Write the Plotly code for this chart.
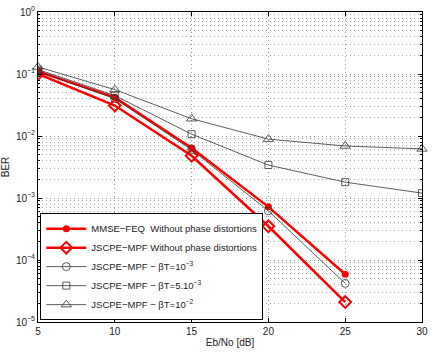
import plotly.graph_objects as go

ebno = [5, 10, 15, 20, 25, 30]
ber_mmse = [0.11, 0.042, 0.0064, 7.2e-4, 5.9e-5]
ber_jscpe = [0.10, 0.031, 0.0048, 3.5e-4, 2.1e-5]
ber_b1 = [0.11, 0.040, 0.0060, 6.2e-4, 4.2e-5]
ber_b5 = [0.118, 0.045, 0.0107, 0.0034, 0.0018, 0.0012]
ber_b10 = [0.13, 0.056, 0.019, 0.0089, 0.0069, 0.0062]

names = [
    "MMSE\u2212FEQ  Without phase distortions",
    "JSCPE\u2212MPF Without phase distortions",
    "JSCPE\u2212MPF \u2212 \u03b2T=10<sup>\u22123</sup>",
    "JSCPE\u2212MPF \u2212 \u03b2T=5.10<sup>\u22123</sup>",
    "JSCPE\u2212MPF \u2212 \u03b2T=10<sup>\u22122</sup>",
]

y_tickvals = [1, 0.1, 0.01, 1e-3, 1e-4, 1e-5]
y_ticktext = ["10<sup>0</sup>", "10<sup>\u22121</sup>", "10<sup>\u22122</sup>",
              "10<sup>\u22123</sup>", "10<sup>\u22124</sup>", "10<sup>\u22125</sup>"]

fig = go.Figure()
fig.add_trace(go.Scatter(x=ebno[:5], y=ber_mmse, name=names[0], mode="lines+markers",
                         line=dict(color="#ff0000", width=2.5),
                         marker=dict(symbol="circle", size=7, color="#ff0000")))
fig.add_trace(go.Scatter(x=ebno[:5], y=ber_jscpe, name=names[1], mode="lines+markers",
                         line=dict(color="#ff0000", width=2.5),
                         marker=dict(symbol="diamond-open", size=9, color="#ff0000",
                                     line=dict(width=2))))
fig.add_trace(go.Scatter(x=ebno[:5], y=ber_b1, name=names[2], mode="lines+markers",
                         line=dict(color="#333333", width=0.8),
                         marker=dict(symbol="circle-open", size=8, color="#333333",
                                     line=dict(width=0.8))))
fig.add_trace(go.Scatter(x=ebno, y=ber_b5, name=names[3], mode="lines+markers",
                         line=dict(color="#333333", width=0.8),
                         marker=dict(symbol="square-open", size=7, color="#333333",
                                     line=dict(width=0.8))))
fig.add_trace(go.Scatter(x=ebno, y=ber_b10, name=names[4], mode="lines+markers",
                         line=dict(color="#333333", width=0.8),
                         marker=dict(symbol="triangle-up-open", size=9, color="#333333",
                                     line=dict(width=0.8)),
                         cliponaxis=False))

fig.update_layout(
    width=433, height=357,
    margin=dict(l=33, r=5, t=10, b=35),
    paper_bgcolor="white", plot_bgcolor="white",
    font=dict(family="Liberation Sans, Arial, sans-serif", size=10, color="#222222"),
    showlegend=True,
    legend=dict(x=0.006, y=0.006, xanchor="left", yanchor="bottom",
                bordercolor="#000000", borderwidth=1, bgcolor="white",
                font=dict(size=9.5), tracegroupgap=0, itemwidth=40),
)
fig.update_xaxes(range=[5, 30], tickvals=[5, 10, 15, 20, 25, 30],
                 showline=True, linecolor="#000000", linewidth=1, mirror="ticks",
                 ticks="inside", ticklen=4, tickcolor="#000000",
                 showgrid=True, gridcolor="#999999", griddash="1px,3px", gridwidth=1,
                 zeroline=False,
                 title=dict(text="Eb/No [dB]", font=dict(size=10), standoff=2))
fig.update_yaxes(type="log", range=[-5, 0], tickvals=y_tickvals, ticktext=y_ticktext,
                 showline=True, linecolor="#000000", linewidth=1, mirror="ticks",
                 ticks="inside", ticklen=4, tickcolor="#000000",
                 showgrid=True, gridcolor="#999999", griddash="1px,3px", gridwidth=1,
                 minor=dict(showgrid=True, gridcolor="#aaaaaa", griddash="1px,3px",
                            ticks="inside", ticklen=2, tickcolor="#000000",
                            dtick="D1"),
                 zeroline=False,
                 title=dict(text="BER", font=dict(size=10), standoff=4))

fig.write_html("out.html")
